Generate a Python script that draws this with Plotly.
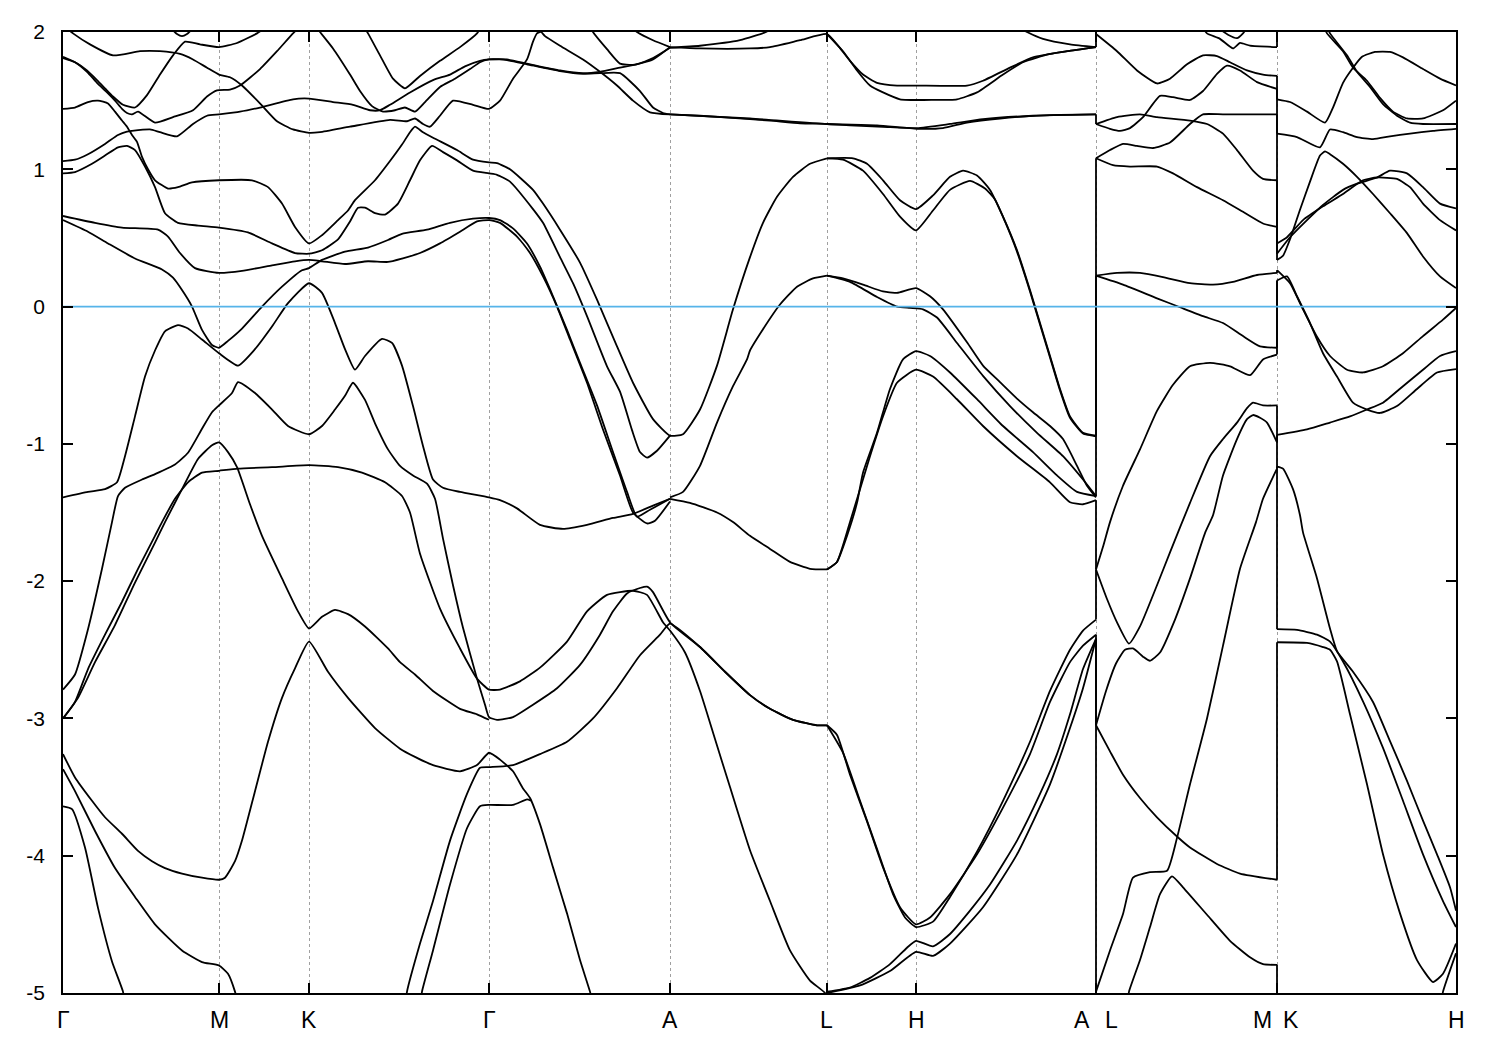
import plotly.graph_objects as go

# ---------------- data (path distance along k-path, energy in eV) ----------------
sym_pos = [63, 219, 309, 489, 670, 827, 916, 1096, 1277, 1456]
label_pos = [63, 219, 309, 489, 670, 826, 916, 1082, 1111, 1262, 1291, 1456]
label_txt = ["Γ", "M", "K", "Γ", "A", "L", "H", "A", "L", "M", "K", "H"]
y_ticks = [-5, -4, -3, -2, -1, 0, 1, 2]
fermi_level = 0.0

# Γ - M - K - Γ (some curves continue further along the path)
bands_gmkg = [
    [[63,2.05],[73,1.99],[90,1.91],[113,1.83],[140,1.86],[160,1.86],[180,1.84],[193,1.80],[207,1.74],[219,1.69],[230,1.67],[242,1.61],[260,1.48],[277,1.35],[293,1.29],[309,1.265],[320,1.27],[350,1.31],[390,1.36],[407,1.35],[415,1.37],[423,1.33],[430,1.31],[440,1.39],[453,1.50],[473,1.47],[489,1.44],[500,1.50],[513,1.66],[527,1.80],[533,1.93],[537,1.99],[541,2.0],[545,1.97],[560,1.90],[583,1.80],[600,1.71],[617,1.61],[633,1.50],[650,1.415],[670,1.40]],
    [[172,2.02],[177,1.985],[182,1.97],[187,1.985],[192,2.02]],
    [[63,1.81],[75,1.78],[87,1.72],[97,1.65],[105,1.59],[113,1.53],[123,1.47],[135,1.45],[147,1.54],[160,1.69],[173,1.83],[185,1.93],[200,1.91],[219,1.89],[237,1.92],[257,1.99],[265,2.03]],
    [[63,1.82],[75,1.78],[87,1.71],[97,1.63],[107,1.56],[115,1.50],[122,1.44],[127,1.41],[132,1.40],[138,1.42],[155,1.34],[173,1.38],[193,1.43],[207,1.53],[217,1.575],[230,1.58],[240,1.61],[260,1.73],[277,1.86],[293,1.99],[300,2.04]],
    [[316,2.04],[320,2.0],[333,1.88],[350,1.69],[360,1.57],[372,1.46],[383,1.42],[395,1.43],[405,1.45],[415,1.42],[425,1.49],[440,1.60],[455,1.66],[470,1.73],[480,1.78],[489,1.80],[500,1.80],[507,1.795],[527,1.765],[560,1.715],[583,1.695],[600,1.70],[620,1.70],[640,1.57],[653,1.45],[663,1.41],[670,1.40]],
    [[63,1.06],[75,1.07],[88,1.11],[105,1.185],[118,1.25],[127,1.275],[132,1.28],[150,1.29],[160,1.27],[177,1.24],[193,1.33],[207,1.39],[219,1.40],[240,1.42],[260,1.45],[293,1.51],[309,1.515],[333,1.49],[353,1.47],[370,1.43],[380,1.43],[390,1.47],[410,1.56],[433,1.65],[450,1.69],[465,1.75],[480,1.79],[489,1.80],[507,1.80],[527,1.77],[560,1.72],[583,1.70],[600,1.71],[620,1.74],[637,1.765],[653,1.81],[670,1.885]],
    [[362,2.06],[368,1.99],[380,1.83],[393,1.66],[405,1.59],[420,1.68],[440,1.79],[460,1.89],[477,1.99],[482,2.05]],
    [[63,1.44],[75,1.45],[88,1.49],[98,1.50],[108,1.48],[115,1.42],[122,1.355],[127,1.31],[132,1.25],[137,1.20],[142,1.09],[148,1.00],[155,0.92],[168,0.86],[178,0.87],[192,0.905],[219,0.92],[252,0.92],[268,0.87],[282,0.75],[295,0.58],[309,0.46],[322,0.52],[338,0.63],[348,0.70],[355,0.775],[375,0.92],[390,1.06],[402,1.18],[410,1.27],[415,1.31],[423,1.27],[433,1.23],[457,1.14],[473,1.07],[489,1.05],[497,1.045],[510,1.00],[533,0.85],[543,0.75],[560,0.56],[580,0.32],[597,0.05],[617,-0.29],[633,-0.555],[653,-0.82],[670,-0.94],[683,-0.93],[700,-0.75],[717,-0.43],[733,-0.02],[750,0.36],[763,0.61],[777,0.80],[793,0.945],[810,1.04],[827,1.08]],
    [[63,0.97],[75,0.98],[92,1.04],[105,1.10],[118,1.16],[127,1.17],[135,1.14],[145,1.02],[155,0.87],[165,0.68],[178,0.61],[198,0.59],[219,0.575],[248,0.54],[272,0.46],[295,0.39],[309,0.385],[322,0.41],[338,0.49],[350,0.62],[358,0.72],[365,0.72],[375,0.68],[385,0.67],[398,0.75],[410,0.92],[420,1.065],[432,1.17],[443,1.125],[457,1.065],[473,0.99],[489,0.97],[497,0.96],[510,0.91],[533,0.71],[543,0.61],[560,0.36],[573,0.17],[587,-0.07],[607,-0.435],[620,-0.62],[632,-0.90],[640,-1.06],[647,-1.10],[657,-1.05],[670,-0.94]],
    [[63,0.66],[95,0.61],[122,0.575],[158,0.56],[168,0.51],[180,0.39],[195,0.28],[219,0.245],[242,0.26],[272,0.30],[295,0.33],[309,0.34],[322,0.33],[345,0.31],[368,0.33],[388,0.325],[402,0.35],[420,0.39],[440,0.46],[460,0.545],[477,0.62],[489,0.63],[500,0.61],[517,0.51],[530,0.39],[543,0.22],[557,0.0],[570,-0.24],[587,-0.555],[603,-0.895],[620,-1.23],[633,-1.50],[647,-1.58],[655,-1.56],[670,-1.42]],
    [[63,0.63],[88,0.545],[108,0.46],[135,0.35],[162,0.27],[173,0.21],[182,0.12],[192,0.0],[202,-0.17],[212,-0.28],[219,-0.30],[228,-0.25],[242,-0.16],[262,0.0],[282,0.145],[302,0.265],[309,0.28],[322,0.34],[345,0.40],[368,0.43],[388,0.485],[402,0.53],[427,0.56],[450,0.61],[473,0.64],[489,0.645],[500,0.63],[513,0.57],[527,0.46],[540,0.29],[553,0.075],[567,-0.17],[580,-0.41],[597,-0.72],[613,-1.06],[627,-1.35],[637,-1.53],[650,-1.48],[670,-1.40]],
    [[63,-1.39],[88,-1.35],[105,-1.33],[117,-1.28],[125,-1.09],[135,-0.80],[145,-0.51],[155,-0.32],[165,-0.18],[178,-0.135],[188,-0.16],[202,-0.24],[219,-0.34],[238,-0.43],[255,-0.31],[272,-0.145],[288,0.025],[309,0.17],[322,0.10],[335,-0.12],[345,-0.31],[355,-0.46],[365,-0.36],[382,-0.235],[392,-0.265],[402,-0.43],[413,-0.725],[423,-1.015],[433,-1.26],[443,-1.32],[460,-1.35],[489,-1.39],[500,-1.41],[517,-1.47],[540,-1.59],[563,-1.62],[587,-1.59],[613,-1.54],[633,-1.51],[653,-1.45],[670,-1.40]],
    [[63,-2.79],[75,-2.68],[88,-2.35],[102,-1.91],[112,-1.57],[118,-1.38],[125,-1.32],[142,-1.26],[155,-1.22],[175,-1.15],[188,-1.065],[202,-0.89],[212,-0.77],[219,-0.72],[232,-0.63],[238,-0.55],[255,-0.63],[272,-0.75],[288,-0.87],[309,-0.93],[322,-0.87],[335,-0.75],[345,-0.65],[353,-0.555],[365,-0.68],[375,-0.85],[388,-1.04],[400,-1.16],[413,-1.23],[427,-1.29],[435,-1.40],[443,-1.69],[453,-2.03],[463,-2.34],[477,-2.71],[485,-2.90],[489,-2.99],[497,-3.01],[513,-2.99],[533,-2.90],[557,-2.78],[580,-2.61],[600,-2.39],[613,-2.22],[627,-2.09],[640,-2.05],[647,-2.04],[653,-2.08],[670,-2.30],[700,-2.48],[725,-2.66],[750,-2.83],[770,-2.93],[793,-3.01],[817,-3.05],[827,-3.05]],
    [[63,-3.0],[75,-2.88],[88,-2.64],[105,-2.39],[122,-2.15],[138,-1.91],[155,-1.67],[162,-1.57],[175,-1.40],[188,-1.28],[202,-1.21],[219,-1.196],[238,-1.18],[272,-1.17],[309,-1.155],[338,-1.17],[362,-1.21],[385,-1.28],[402,-1.38],[410,-1.50],[420,-1.80],[440,-2.20],[460,-2.49],[477,-2.71],[489,-2.79],[500,-2.79],[520,-2.73],[540,-2.63],[567,-2.44],[587,-2.22],[607,-2.10],[633,-2.07],[647,-2.10],[663,-2.30],[670,-2.36],[685,-2.52],[700,-2.80],[715,-3.15],[730,-3.50],[750,-3.96],[770,-4.33],[790,-4.69],[810,-4.91],[825,-5.0],[826,-5.05]],
    [[63,-3.0],[78,-2.85],[95,-2.59],[115,-2.32],[135,-2.01],[155,-1.72],[165,-1.57],[182,-1.33],[198,-1.11],[212,-1.01],[219,-0.99],[228,-1.06],[237,-1.17],[250,-1.44],[262,-1.67],[282,-1.98],[298,-2.22],[309,-2.345],[322,-2.26],[335,-2.21],[348,-2.24],[365,-2.33],[388,-2.49],[400,-2.59],[415,-2.68],[433,-2.80],[460,-2.93],[477,-2.97],[489,-3.01]],
    [[63,-3.26],[75,-3.43],[92,-3.60],[105,-3.72],[122,-3.84],[138,-3.965],[152,-4.04],[165,-4.09],[182,-4.13],[202,-4.16],[219,-4.175],[225,-4.16],[235,-4.04],[242,-3.89],[255,-3.53],[268,-3.17],[282,-2.85],[295,-2.635],[309,-2.44],[328,-2.66],[348,-2.85],[375,-3.07],[400,-3.22],[415,-3.28],[433,-3.34],[460,-3.385],[477,-3.34],[489,-3.25],[500,-3.30],[513,-3.385],[523,-3.51],[530,-3.58],[540,-3.77],[553,-4.085],[567,-4.42],[580,-4.76],[590,-4.99],[592,-5.05]],
    [[63,-3.37],[75,-3.53],[95,-3.82],[115,-4.09],[135,-4.30],[155,-4.50],[182,-4.69],[202,-4.775],[219,-4.80],[228,-4.86],[235,-4.99],[237,-5.05]],
    [[63,-3.64],[72,-3.66],[85,-3.94],[98,-4.38],[112,-4.77],[123,-4.99],[124,-5.05]],
    [[406,-5.05],[407,-4.99],[420,-4.64],[433,-4.33],[450,-3.89],[467,-3.55],[480,-3.36],[489,-3.355],[513,-3.34],[540,-3.26],[567,-3.17],[593,-3.0],[617,-2.78],[640,-2.54],[660,-2.39],[670,-2.31],[700,-2.48],[725,-2.66],[750,-2.83],[770,-2.93],[793,-3.01],[817,-3.05],[827,-3.05]],
    [[421,-5.05],[422,-4.99],[433,-4.69],[450,-4.21],[467,-3.80],[480,-3.64],[489,-3.63],[513,-3.63],[527,-3.59],[531,-3.60]],
]

# Γ - A (upper extra curves)
bands_ga = [
    [[591,2.04],[593,2.0],[607,1.875],[620,1.77],[633,1.76],[653,1.80],[670,1.89]],
    [[632,2.03],[637,2.0],[653,1.94],[670,1.89]],
]

# A - L - H - A
bands_alha = [
    [[670,1.89],[700,1.88],[750,1.88],[770,1.89],[800,1.94],[827,1.985],[837,1.91],[850,1.79],[863,1.69],[877,1.63],[897,1.61],[917,1.61],[967,1.61],[983,1.645],[1010,1.74],[1033,1.815],[1067,1.86],[1096,1.89]],
    [[670,1.885],[700,1.90],[740,1.94],[766,2.0],[772,2.03]],
    [[827,1.985],[843,1.86],[857,1.72],[870,1.61],[883,1.56],[900,1.51],[933,1.505],[957,1.51],[977,1.56],[1003,1.69],[1023,1.78],[1050,1.84],[1096,1.89]],
    [[1020,2.03],[1027,2.0],[1043,1.95],[1070,1.91],[1096,1.89]],
    [[670,1.40],[700,1.39],[750,1.365],[770,1.355],[800,1.335],[827,1.33],[850,1.32],[883,1.31],[917,1.30],[950,1.33],[983,1.365],[1033,1.39],[1096,1.40]],
    [[670,1.40],[750,1.37],[827,1.33],[877,1.32],[917,1.295],[943,1.30],[967,1.34],[1000,1.37],[1050,1.395],[1096,1.40]],
    [[827,1.08],[853,1.08],[867,1.04],[883,0.92],[900,0.775],[916,0.71],[933,0.81],[950,0.945],[963,0.99],[977,0.955],[990,0.85],[1003,0.655],[1017,0.41],[1030,0.12],[1040,-0.12],[1050,-0.36],[1060,-0.60],[1070,-0.80],[1083,-0.92],[1096,-0.94]],
    [[827,1.08],[843,1.07],[863,0.99],[883,0.82],[900,0.655],[916,0.555],[933,0.70],[950,0.85],[970,0.915],[985,0.86],[995,0.78],[1005,0.62],[1017,0.40],[1030,0.11],[1040,-0.13],[1050,-0.37],[1060,-0.61],[1070,-0.81],[1083,-0.925],[1096,-0.945]],
    [[670,-1.39],[683,-1.35],[700,-1.16],[717,-0.845],[733,-0.58],[747,-0.385],[750,-0.32],[763,-0.165],[780,0.015],[797,0.145],[813,0.205],[827,0.225]],
    [[827,0.225],[843,0.205],[863,0.16],[883,0.11],[897,0.10],[916,0.135],[930,0.075],[943,-0.02],[967,-0.26],[983,-0.43],[1000,-0.55],[1017,-0.67],[1033,-0.77],[1050,-0.87],[1063,-0.965],[1077,-1.16],[1087,-1.305],[1096,-1.39]],
    [[827,0.225],[850,0.18],[877,0.07],[897,0.0],[910,-0.01],[923,-0.02],[937,-0.08],[957,-0.265],[983,-0.505],[1010,-0.725],[1037,-0.92],[1063,-1.09],[1083,-1.26],[1096,-1.38]],
    [[670,-1.40],[690,-1.43],[717,-1.50],[733,-1.57],[750,-1.67],[770,-1.765],[790,-1.86],[810,-1.91],[827,-1.915]],
    [[827,-1.915],[837,-1.86],[847,-1.67],[857,-1.43],[863,-1.21],[877,-0.92],[890,-0.60],[903,-0.385],[916,-0.325],[930,-0.36],[950,-0.48],[977,-0.675],[1003,-0.87],[1033,-1.06],[1057,-1.23],[1077,-1.35],[1096,-1.38]],
    [[827,-1.915],[837,-1.86],[850,-1.57],[870,-1.09],[883,-0.80],[897,-0.555],[916,-0.46],[933,-0.51],[957,-0.675],[983,-0.87],[1017,-1.09],[1050,-1.28],[1070,-1.425],[1083,-1.44],[1096,-1.41]],
    [[827,-3.05],[837,-3.12],[850,-3.41],[867,-3.75],[883,-4.085],[900,-4.375],[916,-4.50],[930,-4.45],[950,-4.28],[977,-3.99],[1003,-3.65],[1030,-3.26],[1050,-2.88],[1070,-2.59],[1083,-2.47],[1096,-2.39]],
    [[827,-3.05],[843,-3.25],[860,-3.60],[877,-3.95],[893,-4.28],[905,-4.45],[916,-4.52],[933,-4.48],[950,-4.30],[977,-3.97],[1003,-3.60],[1030,-3.17],[1050,-2.80],[1070,-2.50],[1083,-2.36],[1096,-2.28]],
    [[827,-4.99],[850,-4.96],[870,-4.89],[890,-4.79],[907,-4.67],[916,-4.62],[933,-4.66],[950,-4.57],[970,-4.40],[990,-4.21],[1017,-3.89],[1040,-3.55],[1057,-3.26],[1070,-2.97],[1083,-2.64],[1096,-2.42]],
    [[827,-5.0],[860,-4.945],[890,-4.84],[916,-4.70],[933,-4.73],[950,-4.64],[983,-4.375],[1017,-3.99],[1050,-3.48],[1070,-3.07],[1083,-2.78],[1096,-2.42]],
]

# L - M
bands_lm = [
    [[1096,1.985],[1117,1.86],[1137,1.72],[1157,1.625],[1170,1.66],[1187,1.765],[1203,1.83],[1217,1.825],[1230,1.78],[1247,1.72],[1263,1.69],[1277,1.68]],
    [[1203,2.03],[1207,1.99],[1220,1.95],[1233,1.88],[1240,1.92],[1250,1.90],[1277,1.89]],
    [[1220,2.02],[1228,1.98],[1237,1.955],[1243,1.99],[1246,2.02]],
    [[1096,1.33],[1117,1.38],[1140,1.40],[1157,1.38],[1190,1.355],[1207,1.33],[1223,1.26],[1237,1.14],[1253,0.99],[1263,0.93],[1277,0.92]],
    [[1096,1.33],[1110,1.295],[1120,1.28],[1130,1.30],[1143,1.38],[1160,1.535],[1173,1.525],[1190,1.505],[1203,1.57],[1217,1.695],[1227,1.755],[1240,1.72],[1257,1.635],[1277,1.585]],
    [[1096,1.08],[1110,1.14],[1123,1.185],[1137,1.17],[1153,1.155],[1170,1.195],[1190,1.33],[1203,1.40],[1223,1.40],[1277,1.40]],
    [[1096,1.08],[1113,1.03],[1130,1.02],[1157,1.02],[1173,0.97],[1197,0.87],[1223,0.775],[1243,0.69],[1263,0.605],[1277,0.58]],
    [[1096,0.225],[1117,0.245],[1140,0.245],[1163,0.215],[1190,0.17],[1213,0.16],[1233,0.18],[1257,0.23],[1277,0.245]],
    [[1096,0.225],[1123,0.16],[1157,0.06],[1180,-0.005],[1203,-0.07],[1223,-0.12],[1243,-0.215],[1260,-0.29],[1277,-0.30]],
    [[1096,-1.915],[1103,-1.75],[1110,-1.57],[1123,-1.305],[1140,-1.04],[1157,-0.76],[1173,-0.57],[1190,-0.435],[1210,-0.41],[1230,-0.435],[1250,-0.50],[1263,-0.385],[1277,-0.35]],
    [[1096,-1.915],[1107,-2.13],[1117,-2.30],[1129,-2.455],[1140,-2.33],[1157,-2.03],[1170,-1.79],[1190,-1.43],[1210,-1.09],[1223,-0.965],[1237,-0.845],[1247,-0.74],[1253,-0.70],[1263,-0.72],[1277,-0.72]],
    [[1096,-3.05],[1106,-2.80],[1116,-2.60],[1125,-2.50],[1133,-2.49],[1143,-2.55],[1150,-2.58],[1160,-2.52],[1175,-2.28],[1190,-1.98],[1205,-1.65],[1213,-1.52],[1223,-1.23],[1237,-0.965],[1247,-0.82],[1253,-0.79],[1260,-0.81],[1267,-0.845],[1277,-0.99]],
    [[1096,-3.05],[1110,-3.24],[1123,-3.41],[1140,-3.58],[1157,-3.72],[1177,-3.86],[1190,-3.94],[1217,-4.06],[1240,-4.13],[1277,-4.175]],
    [[1096,-4.99],[1110,-4.69],[1123,-4.425],[1133,-4.16],[1150,-4.12],[1167,-4.11],[1177,-3.87],[1190,-3.48],[1207,-3.0],[1223,-2.47],[1240,-1.91],[1256,-1.57],[1263,-1.40],[1277,-1.18]],
    [[1128,-5.05],[1129,-4.99],[1140,-4.76],[1150,-4.52],[1160,-4.28],[1172,-4.15],[1183,-4.23],[1207,-4.43],[1230,-4.62],[1250,-4.74],[1263,-4.79],[1277,-4.795]],
]

# K - H
bands_kh = [
    [[1277,1.51],[1290,1.49],[1307,1.42],[1325,1.34],[1333,1.45],[1343,1.63],[1353,1.74],[1362,1.82],[1375,1.855],[1390,1.855],[1403,1.815],[1423,1.73],[1440,1.66],[1456,1.61]],
    [[1324,2.04],[1327,1.99],[1343,1.86],[1353,1.74],[1367,1.645],[1380,1.52],[1393,1.42],[1407,1.37],[1423,1.37],[1443,1.43],[1456,1.50]],
    [[1327,2.04],[1330,1.99],[1347,1.83],[1357,1.71],[1370,1.60],[1383,1.475],[1397,1.39],[1410,1.34],[1423,1.33],[1456,1.33]],
    [[1277,1.26],[1297,1.235],[1320,1.16],[1330,1.29],[1343,1.27],[1357,1.235],[1373,1.22],[1390,1.24],[1410,1.26],[1433,1.28],[1456,1.295]],
    [[1277,0.34],[1283,0.37],[1290,0.49],[1300,0.705],[1310,0.91],[1320,1.10],[1325,1.13],[1330,1.11],[1343,1.04],[1357,0.945],[1373,0.82],[1390,0.68],[1407,0.535],[1423,0.365],[1440,0.22],[1456,0.135]],
    [[1277,0.385],[1290,0.505],[1307,0.63],[1323,0.74],[1343,0.85],[1357,0.895],[1377,0.94],[1390,0.99],[1407,0.97],[1423,0.87],[1440,0.75],[1456,0.715]],
    [[1277,0.46],[1287,0.505],[1303,0.63],[1323,0.73],[1343,0.82],[1363,0.92],[1377,0.94],[1397,0.93],[1410,0.87],[1423,0.75],[1440,0.63],[1456,0.555]],
    [[1277,0.265],[1290,0.17],[1303,-0.02],[1317,-0.22],[1330,-0.36],[1347,-0.46],[1363,-0.48],[1383,-0.435],[1403,-0.34],[1423,-0.215],[1443,-0.095],[1456,-0.01]],
    [[1277,0.19],[1287,0.22],[1297,0.075],[1310,-0.12],[1323,-0.34],[1337,-0.51],[1353,-0.70],[1367,-0.75],[1380,-0.775],[1397,-0.725],[1417,-0.60],[1437,-0.48],[1456,-0.455]],
    [[1277,-0.935],[1307,-0.895],[1330,-0.845],[1350,-0.80],[1367,-0.75],[1383,-0.70],[1403,-0.58],[1423,-0.46],[1440,-0.36],[1456,-0.325]],
    [[1277,-1.165],[1283,-1.18],[1293,-1.33],[1300,-1.52],[1303,-1.645],[1317,-1.98],[1330,-2.345],[1337,-2.51],[1353,-2.66],[1373,-2.88],[1390,-3.165],[1407,-3.455],[1423,-3.745],[1437,-3.99],[1450,-4.23],[1456,-4.40]],
    [[1277,-2.35],[1297,-2.355],[1317,-2.39],[1330,-2.44],[1343,-2.585],[1363,-2.875],[1383,-3.215],[1403,-3.60],[1423,-3.99],[1443,-4.33],[1456,-4.52]],
    [[1277,-2.445],[1307,-2.45],[1323,-2.48],[1330,-2.50],[1337,-2.585],[1350,-2.97],[1367,-3.48],[1383,-3.99],[1400,-4.42],[1417,-4.76],[1433,-4.92],[1443,-4.86],[1456,-4.64]],
    [[1442,-5.05],[1443,-4.99],[1456,-4.71]],
]

# band connections across the path discontinuities (energy on each side)
jump_AL_pos = 1096
jump_AL = [[1.89, 2.05], [1.40, 1.33], [-0.94, 1.08], [-1.38, 0.225], [-1.41, -1.915],
           [-2.28, -1.915], [-2.39, -3.05], [-2.42, -5.05]]
jump_MK_pos = 1277
jump_MK = [[1.89, 2.05], [1.68, 1.51], [1.585, 1.26], [1.40, 0.46], [0.92, 0.385],
           [0.58, 0.34], [0.245, 0.265], [-0.30, 0.19], [-0.35, 0.19], [-0.72, -2.35],
           [-0.99, -0.935], [-1.18, -1.165], [-4.175, -2.445], [-4.795, -5.05]]

# ---------------- figure ----------------
fig = go.Figure()
band_style = dict(color="black", width=1.8, shape="spline", smoothing=0.5)
jump_style = dict(color="black", width=1.8)

for group in (bands_gmkg, bands_ga, bands_alha, bands_lm, bands_kh):
    for curve in group:
        fig.add_trace(go.Scatter(x=[p[0] for p in curve], y=[p[1] for p in curve],
                                 mode="lines", line=band_style, hoverinfo="skip",
                                 showlegend=False))

for pos, pairs in ((jump_AL_pos, jump_AL), (jump_MK_pos, jump_MK)):
    for e1, e2 in pairs:
        fig.add_trace(go.Scatter(x=[pos, pos], y=[e1, e2], mode="lines",
                                 line=jump_style, hoverinfo="skip", showlegend=False))

fig.add_trace(go.Scatter(x=[sym_pos[0], sym_pos[-1]], y=[fermi_level, fermi_level],
                         mode="lines", line=dict(color="rgb(86,180,233)", width=1.8),
                         hoverinfo="skip", showlegend=False))

font_name = "Liberation Sans Narrow, Liberation Sans, Arial, sans-serif"

fig.update_xaxes(range=[sym_pos[0], sym_pos[-1]], tickvals=sym_pos,
                 ticktext=[""] * len(sym_pos), ticks="inside", ticklen=10, tickwidth=1.5,
                 tickcolor="black", showline=True, linecolor="black", linewidth=1.8,
                 mirror="ticks", showgrid=True, gridcolor="#a0a0a0", gridwidth=1,
                 griddash="3px,3px", zeroline=False)
fig.update_yaxes(range=[-5, 2], tickvals=y_ticks, ticktext=[str(v) for v in y_ticks],
                 ticks="inside", ticklen=10, tickwidth=1.5, tickcolor="black",
                 showline=True, linecolor="black", linewidth=1.8, mirror="ticks",
                 showgrid=False, zeroline=False, ticklabelstandoff=12,
                 tickfont=dict(family=font_name, size=21, color="black"))

annotations = []
for xp, txt in zip(label_pos, label_txt):
    annotations.append(dict(x=xp, y=-0.028, xref="x", yref="paper", text=txt,
                            showarrow=False, xanchor="center", yanchor="middle",
                            font=dict(family=font_name, size=23, color="black")))

# page body has an 8 px default margin; size the figure so the plot area lands
# at x 63..1456, y 28..993 of the window
fig.update_layout(width=1484, height=1034, plot_bgcolor="white", paper_bgcolor="white",
                  margin=dict(l=55, r=36, t=20, b=49), annotations=annotations,
                  showlegend=False)

fig.write_html("out.html")
